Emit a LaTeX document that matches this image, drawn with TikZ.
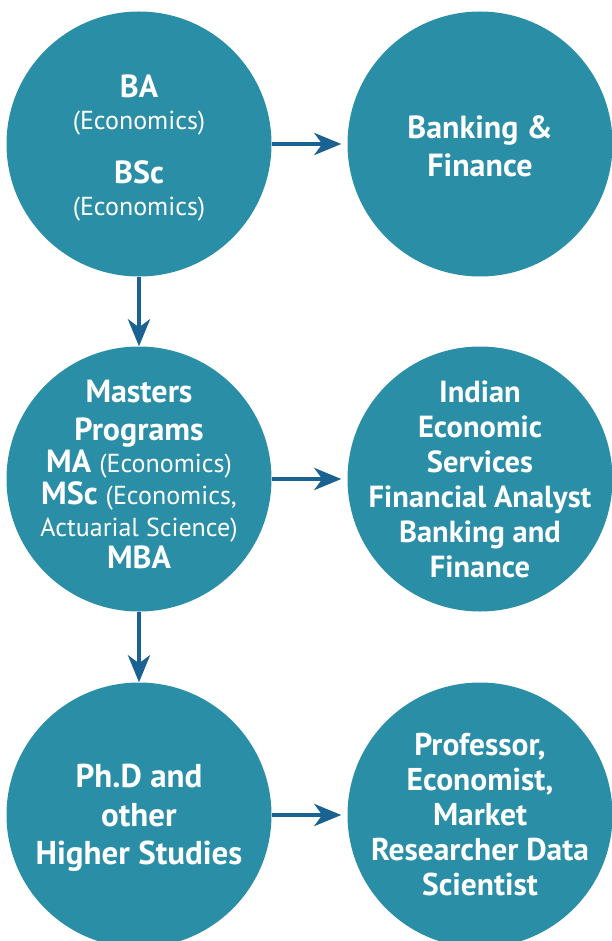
\documentclass[tikz,border=0pt]{standalone}
\usepackage{fontspec}
\setmainfont{PT Sans}
\usetikzlibrary{arrows.meta}
\definecolor{circfill}{HTML}{2A8FA6}
\definecolor{arrowcol}{HTML}{1A6292}
\tikzset{
  bubble/.style={circle, fill=circfill, draw=none, minimum size=265pt, inner sep=0pt},
  label text/.style={text=white, align=center, font=\bfseries\fontsize{32}{32}\selectfont},
  flow/.style={draw=arrowcol, line width=4.5pt, -{Stealth[length=27pt,width=22pt,inset=8pt]}},
}
\newcommand{\reg}[1]{{\mdseries\fontsize{26}{32}\selectfont #1}}
\begin{document}
\begin{tikzpicture}[x=1pt,y=-1pt]
\useasboundingbox (0,0) rectangle (611,941);
\node[bubble] (c1) at (139,144) {};
\node[bubble] (c2) at (480,144) {};
\node[bubble] (c3) at (139,479) {};
\node[bubble] (c4) at (480,479) {};
\node[bubble] (c5) at (139,815) {};
\node[bubble] (c6) at (480,815) {};

\node[label text] (t1) at (139,148) {BA\\\reg{(Economics)}\\[22pt]BSc\\\reg{(Economics)}};
\node[label text, font=\bfseries\fontsize{32}{38}\selectfont] (t2) at (480,146) {Banking \&\\Finance};
\node[label text] (t3) at (139,474) {Masters\\[6pt]Programs\\MA \reg{(Economics)}\\MSc \reg{(Economics,}\\\reg{Actuarial Science)}\\MBA};
\node[label text, font=\bfseries\fontsize{30.5}{35}\selectfont] (t4) at (480,479) {Indian\\Economic\\Services\\Financial Analyst\\Banking and\\Finance};
\node[label text, font=\bfseries\fontsize{33}{38.5}\selectfont] (t5) at (139,818) {Ph.D and\\other\\Higher Studies};
\node[label text, font=\bfseries\fontsize{31.5}{35}\selectfont] (t6) at (480,815) {Professor,\\Economist,\\Market\\Researcher Data\\Scientist};

\draw[flow, shorten >=6pt] (c1.east) -- (c2.west);
\draw[flow, shorten >=6pt] (c3.east) -- (c4.west);
\draw[flow, shorten >=6pt] (c5.east) -- (c6.west);
\draw[flow] (c1.south) -- (c3.north);
\draw[flow] (c3.south) -- (c5.north);
\end{tikzpicture}
\end{document}
